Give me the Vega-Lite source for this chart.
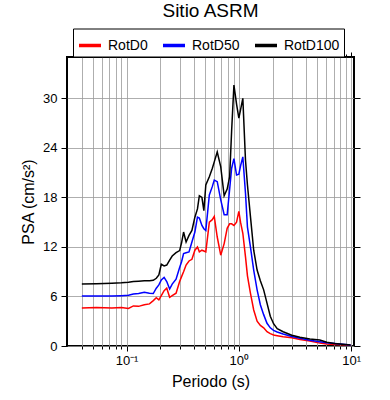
{
  "$schema": "https://vega.github.io/schema/vega-lite/v6.json",
  "autosize": {"type": "none"},
  "padding": {"left": 67, "top": 57, "right": 36, "bottom": 54},
  "width": 287,
  "height": 289,
  "background": "white",
  "config": {
    "font": "Liberation Sans",
    "view": {"stroke": "black", "strokeWidth": 2},
    "axis": {"labelFont": "Liberation Sans", "titleFont": "Liberation Sans", "labelColor": "black", "titleColor": "black", "tickColor": "black", "domain": false, "titleFontWeight": "normal", "tickWidth": 1}
  },
  "title": {"text": "Sitio ASRM", "fontSize": 19, "fontWeight": "normal", "font": "Liberation Sans", "offset": 7, "anchor": "middle", "color": "black"},
  "data": {"values": [
    {"T":0.04,"serie":"RotD0","PSA":4.6},{"T":0.04,"serie":"RotD50","PSA":6.05},{"T":0.04,"serie":"RotD100","PSA":7.5},
    {"T":0.054,"serie":"RotD0","PSA":4.65},{"T":0.054,"serie":"RotD50","PSA":6.05},{"T":0.054,"serie":"RotD100","PSA":7.55},
    {"T":0.074,"serie":"RotD0","PSA":4.6},{"T":0.074,"serie":"RotD50","PSA":6.05},{"T":0.074,"serie":"RotD100","PSA":7.6},
    {"T":0.09,"serie":"RotD0","PSA":4.65},{"T":0.09,"serie":"RotD50","PSA":6.1},{"T":0.09,"serie":"RotD100","PSA":7.65},
    {"T":0.104,"serie":"RotD0","PSA":4.55},{"T":0.104,"serie":"RotD50","PSA":6.15},{"T":0.104,"serie":"RotD100","PSA":7.72},
    {"T":0.115,"serie":"RotD0","PSA":4.85},{"T":0.115,"serie":"RotD50","PSA":6.3},{"T":0.115,"serie":"RotD100","PSA":7.8},
    {"T":0.128,"serie":"RotD0","PSA":4.8},{"T":0.128,"serie":"RotD50","PSA":6.35},{"T":0.128,"serie":"RotD100","PSA":7.85},
    {"T":0.144,"serie":"RotD0","PSA":5.0},{"T":0.144,"serie":"RotD50","PSA":6.5},{"T":0.144,"serie":"RotD100","PSA":7.9},
    {"T":0.16,"serie":"RotD0","PSA":5.1},{"T":0.16,"serie":"RotD50","PSA":6.4},{"T":0.16,"serie":"RotD100","PSA":7.9},
    {"T":0.173,"serie":"RotD0","PSA":5.5},{"T":0.173,"serie":"RotD50","PSA":6.35},{"T":0.173,"serie":"RotD100","PSA":7.95},
    {"T":0.184,"serie":"RotD0","PSA":5.85},{"T":0.184,"serie":"RotD50","PSA":7.0},{"T":0.184,"serie":"RotD100","PSA":8.2},
    {"T":0.194,"serie":"RotD0","PSA":5.6},{"T":0.194,"serie":"RotD50","PSA":7.4},{"T":0.194,"serie":"RotD100","PSA":8.6},
    {"T":0.204,"serie":"RotD0","PSA":6.1},{"T":0.204,"serie":"RotD50","PSA":8.0},{"T":0.204,"serie":"RotD100","PSA":9.9},
    {"T":0.216,"serie":"RotD0","PSA":6.7},{"T":0.216,"serie":"RotD50","PSA":8.3},{"T":0.216,"serie":"RotD100","PSA":9.7},
    {"T":0.228,"serie":"RotD0","PSA":7.0},{"T":0.228,"serie":"RotD50","PSA":7.8},{"T":0.228,"serie":"RotD100","PSA":9.8},
    {"T":0.242,"serie":"RotD0","PSA":5.9},{"T":0.242,"serie":"RotD50","PSA":6.9},{"T":0.242,"serie":"RotD100","PSA":10.4},
    {"T":0.255,"serie":"RotD0","PSA":6.1},{"T":0.255,"serie":"RotD50","PSA":7.5},{"T":0.255,"serie":"RotD100","PSA":10.9},
    {"T":0.276,"serie":"RotD0","PSA":6.4},{"T":0.276,"serie":"RotD50","PSA":8.1},{"T":0.276,"serie":"RotD100","PSA":11.3},
    {"T":0.297,"serie":"RotD0","PSA":7.8},{"T":0.297,"serie":"RotD50","PSA":9.5},{"T":0.297,"serie":"RotD100","PSA":11.55},
    {"T":0.309,"serie":"RotD0","PSA":8.4},{"T":0.309,"serie":"RotD50","PSA":10.2},{"T":0.309,"serie":"RotD100","PSA":12.5},
    {"T":0.322,"serie":"RotD0","PSA":9.0},{"T":0.322,"serie":"RotD50","PSA":11.2},{"T":0.322,"serie":"RotD100","PSA":13.8},
    {"T":0.339,"serie":"RotD0","PSA":9.8},{"T":0.339,"serie":"RotD50","PSA":11.3},{"T":0.339,"serie":"RotD100","PSA":12.6},
    {"T":0.36,"serie":"RotD0","PSA":10.3},{"T":0.36,"serie":"RotD50","PSA":11.4},{"T":0.36,"serie":"RotD100","PSA":13.4},
    {"T":0.382,"serie":"RotD0","PSA":10.5},{"T":0.382,"serie":"RotD50","PSA":12.6},{"T":0.382,"serie":"RotD100","PSA":14.0},
    {"T":0.406,"serie":"RotD0","PSA":11.6},{"T":0.406,"serie":"RotD50","PSA":13.8},{"T":0.406,"serie":"RotD100","PSA":15.6},
    {"T":0.428,"serie":"RotD0","PSA":12.0},{"T":0.428,"serie":"RotD50","PSA":15.6},{"T":0.428,"serie":"RotD100","PSA":16.6},
    {"T":0.445,"serie":"RotD0","PSA":11.4},{"T":0.445,"serie":"RotD50","PSA":15.5},{"T":0.445,"serie":"RotD100","PSA":18.2},
    {"T":0.469,"serie":"RotD0","PSA":11.6},{"T":0.469,"serie":"RotD50","PSA":14.6},{"T":0.469,"serie":"RotD100","PSA":18.0},
    {"T":0.488,"serie":"RotD0","PSA":11.5},{"T":0.488,"serie":"RotD50","PSA":14.2},{"T":0.488,"serie":"RotD100","PSA":16.4},
    {"T":0.508,"serie":"RotD0","PSA":11.4},{"T":0.508,"serie":"RotD50","PSA":14.0},{"T":0.508,"serie":"RotD100","PSA":19.5},
    {"T":0.546,"serie":"RotD0","PSA":15.0},{"T":0.546,"serie":"RotD50","PSA":18.3},{"T":0.546,"serie":"RotD100","PSA":20.5},
    {"T":0.58,"serie":"RotD0","PSA":15.3},{"T":0.58,"serie":"RotD50","PSA":19.3},{"T":0.58,"serie":"RotD100","PSA":21.5},
    {"T":0.604,"serie":"RotD0","PSA":15.7},{"T":0.604,"serie":"RotD50","PSA":20.1},{"T":0.604,"serie":"RotD100","PSA":22.3},
    {"T":0.642,"serie":"RotD0","PSA":13.2},{"T":0.642,"serie":"RotD50","PSA":19.9},{"T":0.642,"serie":"RotD100","PSA":23.5},
    {"T":0.69,"serie":"RotD0","PSA":11.0},{"T":0.69,"serie":"RotD50","PSA":17.7},{"T":0.69,"serie":"RotD100","PSA":21.7},
    {"T":0.74,"serie":"RotD0","PSA":12.4},{"T":0.74,"serie":"RotD50","PSA":15.9},{"T":0.74,"serie":"RotD100","PSA":18.2},
    {"T":0.787,"serie":"RotD0","PSA":14.25},{"T":0.787,"serie":"RotD50","PSA":15.9},{"T":0.787,"serie":"RotD100","PSA":19.0},
    {"T":0.828,"serie":"RotD0","PSA":14.8},{"T":0.828,"serie":"RotD50","PSA":19.0},{"T":0.828,"serie":"RotD100","PSA":20.5},
    {"T":0.862,"serie":"RotD0","PSA":14.8},{"T":0.862,"serie":"RotD50","PSA":21.5},{"T":0.862,"serie":"RotD100","PSA":26.0},
    {"T":0.904,"serie":"RotD0","PSA":14.6},{"T":0.904,"serie":"RotD50","PSA":22.7},{"T":0.904,"serie":"RotD100","PSA":31.6},
    {"T":0.954,"serie":"RotD0","PSA":15.0},{"T":0.954,"serie":"RotD50","PSA":20.7},{"T":0.954,"serie":"RotD100","PSA":29.3},
    {"T":1.0,"serie":"RotD0","PSA":16.3},{"T":1.0,"serie":"RotD50","PSA":20.8},{"T":1.0,"serie":"RotD100","PSA":27.6},
    {"T":1.035,"serie":"RotD0","PSA":15.0},{"T":1.035,"serie":"RotD50","PSA":21.8},{"T":1.035,"serie":"RotD100","PSA":28.6},
    {"T":1.085,"serie":"RotD0","PSA":13.65},{"T":1.085,"serie":"RotD50","PSA":22.9},{"T":1.085,"serie":"RotD100","PSA":30.0},
    {"T":1.146,"serie":"RotD0","PSA":10.8},{"T":1.146,"serie":"RotD50","PSA":18.5},{"T":1.146,"serie":"RotD100","PSA":22.5},
    {"T":1.193,"serie":"RotD0","PSA":8.5},{"T":1.193,"serie":"RotD50","PSA":14.4},{"T":1.193,"serie":"RotD100","PSA":19.5},
    {"T":1.268,"serie":"RotD0","PSA":6.4},{"T":1.268,"serie":"RotD50","PSA":12.0},{"T":1.268,"serie":"RotD100","PSA":15.7},
    {"T":1.356,"serie":"RotD0","PSA":4.36},{"T":1.356,"serie":"RotD50","PSA":9.2},{"T":1.356,"serie":"RotD100","PSA":11.6},
    {"T":1.454,"serie":"RotD0","PSA":3.0},{"T":1.454,"serie":"RotD50","PSA":6.8},{"T":1.454,"serie":"RotD100","PSA":9.2},
    {"T":1.554,"serie":"RotD0","PSA":2.5},{"T":1.554,"serie":"RotD50","PSA":5.0},{"T":1.554,"serie":"RotD100","PSA":7.9},
    {"T":1.663,"serie":"RotD0","PSA":2.2},{"T":1.663,"serie":"RotD50","PSA":3.8},{"T":1.663,"serie":"RotD100","PSA":6.8},
    {"T":1.781,"serie":"RotD0","PSA":1.73},{"T":1.781,"serie":"RotD50","PSA":2.75},{"T":1.781,"serie":"RotD100","PSA":5.2},
    {"T":1.905,"serie":"RotD0","PSA":1.5},{"T":1.905,"serie":"RotD50","PSA":2.2},{"T":1.905,"serie":"RotD100","PSA":3.6},
    {"T":2.037,"serie":"RotD0","PSA":1.33},{"T":2.037,"serie":"RotD50","PSA":1.9},{"T":2.037,"serie":"RotD100","PSA":2.7},
    {"T":2.196,"serie":"RotD0","PSA":1.25},{"T":2.196,"serie":"RotD50","PSA":1.7},{"T":2.196,"serie":"RotD100","PSA":2.1},
    {"T":2.48,"serie":"RotD0","PSA":1.13},{"T":2.48,"serie":"RotD50","PSA":1.45},{"T":2.48,"serie":"RotD100","PSA":1.73},
    {"T":2.96,"serie":"RotD0","PSA":1.0},{"T":2.96,"serie":"RotD50","PSA":1.15},{"T":2.96,"serie":"RotD100","PSA":1.3},
    {"T":3.5,"serie":"RotD0","PSA":0.8},{"T":3.5,"serie":"RotD50","PSA":0.95},{"T":3.5,"serie":"RotD100","PSA":1.05},
    {"T":4.29,"serie":"RotD0","PSA":0.6},{"T":4.29,"serie":"RotD50","PSA":0.7},{"T":4.29,"serie":"RotD100","PSA":0.85},
    {"T":5.26,"serie":"RotD0","PSA":0.35},{"T":5.26,"serie":"RotD50","PSA":0.52},{"T":5.26,"serie":"RotD100","PSA":0.73},
    {"T":6.07,"serie":"RotD0","PSA":0.25},{"T":6.07,"serie":"RotD50","PSA":0.4},{"T":6.07,"serie":"RotD100","PSA":0.45},
    {"T":7.14,"serie":"RotD0","PSA":0.18},{"T":7.14,"serie":"RotD50","PSA":0.3},{"T":7.14,"serie":"RotD100","PSA":0.3},
    {"T":8.4,"serie":"RotD0","PSA":0.14},{"T":8.4,"serie":"RotD50","PSA":0.2},{"T":8.4,"serie":"RotD100","PSA":0.22},
    {"T":9.88,"serie":"RotD0","PSA":0.1},{"T":9.88,"serie":"RotD50","PSA":0.12},{"T":9.88,"serie":"RotD100","PSA":0.12}
  ]},
  "layer": [
    {
      "mark": {"type": "line", "strokeWidth": 1.5, "clip": true},
      "encoding": {
        "x": {"field": "T", "type": "quantitative",
          "scale": {"type": "log", "domain": [0.0295, 10.6], "nice": false},
          "axis": {"orient": "bottom",
            "values": [0.04,0.05,0.06,0.07,0.08,0.09,0.1,0.2,0.3,0.4,0.5,0.6,0.7,0.8,0.9,1,2,3,4,5,6,7,8,9,10],
            "grid": true, "gridColor": "#999999", "gridWidth": 0.8,
            "tickSize": {"condition": {"test": "datum.value == 0.1 || datum.value == 1 || datum.value == 10", "value": 5}, "value": 3},
            "labelExpr": "datum.value == 0.1 ? '10⁻¹' : datum.value == 1 ? '10⁰' : datum.value == 10 ? '10¹' : ''",
            "labelFontSize": 13, "labelPadding": 3, "labelFlush": false, "labelOverlap": false,
            "title": "Periodo (s)", "titleFontSize": 16, "titlePadding": 6}},
        "y": {"field": "PSA", "type": "quantitative",
          "scale": {"domain": [0, 35], "nice": false},
          "axis": {"orient": "left", "values": [0,6,12,18,24,30], "grid": true, "gridColor": "#999999", "gridWidth": 0.8,
            "tickSize": 6, "labelFontSize": 13, "labelPadding": 4,
            "title": "PSA (cm/s²)", "titleFontSize": 16, "titlePadding": 6}},
        "color": {"field": "serie", "type": "nominal",
          "scale": {"domain": ["RotD0","RotD50","RotD100"], "range": ["#ff0000","#0000ff","#000000"]},
          "legend": {"orient": "none", "legendX": 6, "legendY": -28.5, "direction": "horizontal", "title": null,
            "strokeColor": "black", "padding": 4, "fillColor": "white",
            "symbolType": "stroke", "symbolStrokeWidth": 3.5, "symbolSize": 484,
            "labelFontSize": 14, "labelFont": "Liberation Sans", "labelColor": "black", "labelOffset": 5, "columnPadding": 8}}
      }
    },
    {
      "mark": {"type": "line", "opacity": 0},
      "encoding": {
        "x": {"field": "T", "type": "quantitative",
          "scale": {"type": "log", "domain": [0.0295, 10.6], "nice": false},
          "axis": {"orient": "top",
            "values": [0.04,0.05,0.06,0.07,0.08,0.09,0.1,0.2,0.3,0.4,0.5,0.6,0.7,0.8,0.9,1,2,3,4,5,6,7,8,9,10],
            "grid": false, "labels": false, "title": null,
            "tickSize": {"condition": {"test": "datum.value == 0.1 || datum.value == 1 || datum.value == 10", "value": 5}, "value": 3}}},
        "y": {"field": "PSA", "type": "quantitative",
          "scale": {"domain": [0, 35], "nice": false},
          "axis": {"orient": "right", "values": [0,6,12,18,24,30], "grid": false, "labels": false, "title": null, "tickSize": 6}},
        "detail": {"field": "serie"}
      }
    }
  ],
  "resolve": {"axis": {"x": "independent", "y": "independent"}}
}
